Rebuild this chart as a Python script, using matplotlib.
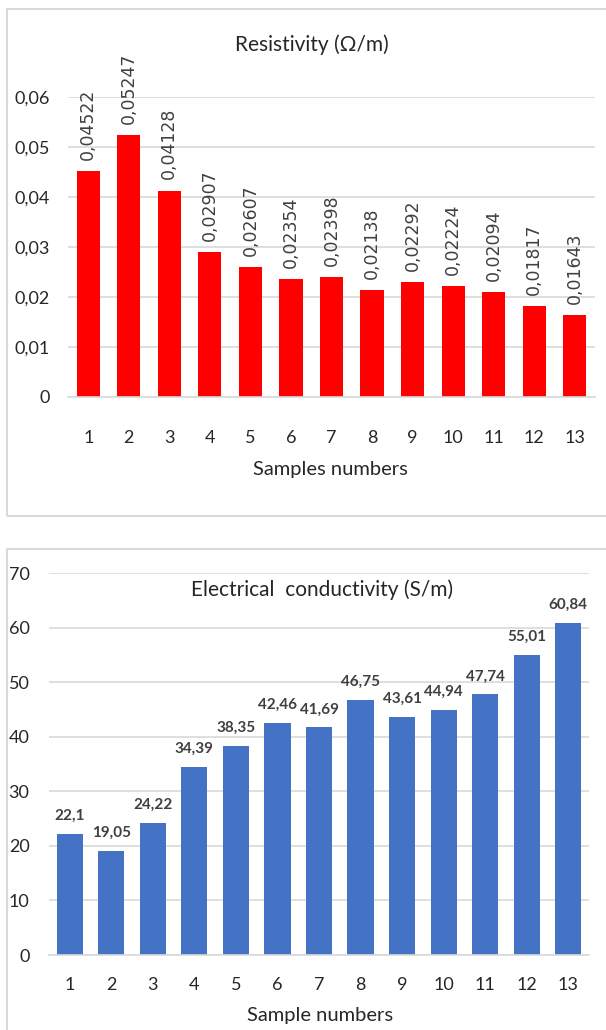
import matplotlib
matplotlib.use("Agg")
import matplotlib.pyplot as plt
from matplotlib.patches import Rectangle

# données
samples = list(range(1, 14))
resistivity = [0.04522, 0.05247, 0.04128, 0.02907, 0.02607, 0.02354, 0.02398,
               0.02138, 0.02292, 0.02224, 0.02094, 0.01817, 0.01643]
conductivity = [22.1, 19.05, 24.22, 34.39, 38.35, 42.46, 41.69,
                46.75, 43.61, 44.94, 47.74, 55.01, 60.84]
cond_labels = ["22,1", "19,05", "24,22", "34,39", "38,35", "42,46", "41,69",
               "46,75", "43,61", "44,94", "47,74", "55,01", "60,84"]
res_ticks = [0, 0.01, 0.02, 0.03, 0.04, 0.05, 0.06]
cond_ticks = [0, 10, 20, 30, 40, 50, 60, 70]

FONT = ["Lato", "DejaVu Sans"]
TXT = "#262626"
GRID = "#D9D9D9"
W, H = 606, 1030

plt.rcParams["font.family"] = FONT

fig = plt.figure(figsize=(W / 100, H / 100), dpi=100)


def px_box(x0, y0, x1, y1):
    return [x0 / W, 1 - y1 / H, (x1 - x0) / W, (y1 - y0) / H]


def fr(x, num):
    return f"{x:.{num}f}".replace(".", ",")


def style_axes(ax, ticks, labels, ypad, xpad):
    ax.set_xlim(0.5, 13.5)
    ax.set_ylim(ticks[0], ticks[-1])
    ax.set_yticks(ticks)
    ax.set_yticklabels(labels)
    ax.set_xticks(samples)
    ax.set_xticklabels([str(s) for s in samples])
    ax.tick_params(axis="both", length=0, labelsize=13, colors=TXT)
    ax.tick_params(axis="y", pad=ypad)
    ax.tick_params(axis="x", pad=xpad)
    for sp in ["top", "right", "left"]:
        ax.spines[sp].set_visible(False)
    ax.spines["bottom"].set_color(GRID)
    ax.spines["bottom"].set_linewidth(1.2)
    ax.grid(axis="y", color=GRID, linewidth=1.2)
    ax.set_axisbelow(True)


# cadres des deux graphiques
for box in [(7, 9, 620, 516), (7, 549, 620, 1040)]:
    fig.add_artist(Rectangle((box[0] / W, 1 - box[3] / H),
                             (box[2] - box[0]) / W, (box[3] - box[1]) / H,
                             transform=fig.transFigure, fill=False,
                             edgecolor=GRID, linewidth=1.5))

# =========================
# RÉSISTIVITÉ
# =========================
ax1 = fig.add_axes(px_box(68, 97, 595, 397))
ax1.bar(samples, resistivity, width=0.57, color="#FF0000")
style_axes(ax1, res_ticks, ["0"] + [fr(t, 2) for t in res_ticks[1:]], 13, 24)
for x, v in zip(samples, resistivity):
    ax1.annotate(fr(v, 5), (x, v), xytext=(0, 8), textcoords="offset points",
                 rotation=90, ha="center", va="bottom", fontsize=12.5,
                 family=["DejaVu Sans"], color="#404040",
                 annotation_clip=False)
ax1.set_xlabel("Samples numbers", fontsize=14.5, color=TXT)
ax1.xaxis.set_label_coords((330 - 68) / 527, (397 - 470) / 300)
ax1.xaxis.label.set_va("center")
fig.text(312 / W, 1 - 45 / H, "Resistivity (\u03a9/m)", ha="center", va="center",
         fontsize=15, color=TXT)

# =========================
# CONDUCTIVITÉ
# =========================
ax2 = fig.add_axes(px_box(49, 573, 589, 955))
ax2.bar(samples, conductivity, width=0.63, color="#4472C4")
style_axes(ax2, cond_ticks, [str(t) for t in cond_ticks], 14, 16)
for x, v, lab in zip(samples, conductivity, cond_labels):
    ax2.annotate(lab, (x, v), xytext=(0, 8), textcoords="offset points",
                 ha="center", va="bottom", fontsize=11, fontweight="bold",
                 color="#404040", annotation_clip=False)
ax2.set_xlabel("Sample numbers", fontsize=14.5, color=TXT)
ax2.xaxis.set_label_coords((320 - 49) / 540, (955 - 1015) / 382)
ax2.xaxis.label.set_va("center")
fig.text(322 / W, 1 - 590 / H, "Electrical  conductivity (S/m)", ha="center",
         va="center", fontsize=15, color=TXT)

fig.savefig("out.png", dpi=100, facecolor="white")
